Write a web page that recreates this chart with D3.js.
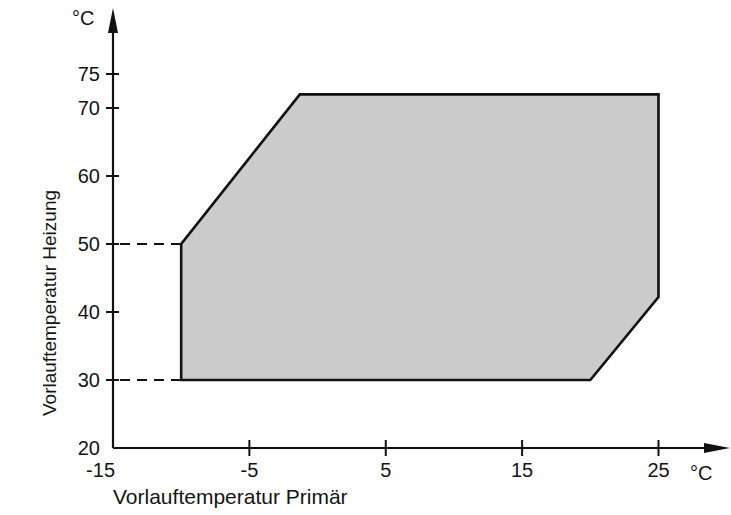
<!DOCTYPE html>
<html>
<head>
<meta charset="utf-8">
<script src="https://cdn.jsdelivr.net/npm/d3@7"></script>
<style>
  html, body { margin: 0; padding: 0; background: #fff; }
  svg text { font-family: "Liberation Sans", Arial, sans-serif; fill: #141414; }
</style>
</head>
<body>
<svg id="chart" width="731" height="515"></svg>
<script>
// Operating range: primary flow temperature (x) vs heating flow temperature (y)
const xTicks = [-15, -5, 5, 15, 25];
const yTicks = [20, 30, 40, 50, 60, 70, 75];
const rangeX = [-10, -10, -1.3, 25, 25, 20];
const rangeY = [30, 50, 72, 72, 42.2, 30];
// heating flow levels marked with guide lines back to the axis
const guideLevels = [50, 30];
const guideEndX = -10;

const xTitle = "Vorlauftemperatur Primär";
const yTitle = "Vorlauftemperatur Heizung";
const unit = "°C";

const svg = d3.select("#chart");
const x = d3.scaleLinear().domain([-15, 25]).range([113, 658.5]);
const y = d3.scaleLinear().domain([20, 75]).range([448, 74]);

const x0 = x(-15), y0 = y(20);

// shaded operating envelope
const pts = rangeX.map((v, i) => [x(v), y(rangeY[i])]);
svg.append("path")
  .attr("d", d3.line()(pts) + "Z")
  .attr("fill", "#cbcbcb")
  .attr("stroke", "#111")
  .attr("stroke-width", 2.6)
  .attr("stroke-linejoin", "miter");

// dashed guides
svg.selectAll("line.guide").data(guideLevels).enter().append("line")
  .attr("class", "guide")
  .attr("x1", x0).attr("x2", x(guideEndX))
  .attr("y1", d => y(d)).attr("y2", d => y(d))
  .attr("stroke", "#111").attr("stroke-width", 2)
  .attr("stroke-dasharray", "10,7")
  .attr("stroke-dashoffset", -7);

// axes lines
svg.append("line").attr("x1", x0).attr("x2", x0).attr("y1", y0).attr("y2", 30)
  .attr("stroke", "#111").attr("stroke-width", 2.2);
svg.append("line").attr("x1", x0).attr("x2", 706).attr("y1", y0).attr("y2", y0)
  .attr("stroke", "#111").attr("stroke-width", 2.2);

// arrow heads
svg.append("path").attr("d", `M${x0},8 L${x0 - 5},33 L${x0 + 5},33 Z`).attr("fill", "#111");
svg.append("path").attr("d", `M730,${y0} L704,${y0 - 5} L704,${y0 + 5} Z`).attr("fill", "#111");

// y ticks and labels
const yt = svg.append("g");
yt.selectAll("line").data(yTicks.filter(d => d !== 20)).enter().append("line")
  .attr("x1", x0 - 7).attr("x2", x0 + 6)
  .attr("y1", d => y(d)).attr("y2", d => y(d))
  .attr("stroke", "#111").attr("stroke-width", 2);
yt.selectAll("text").data(yTicks).enter().append("text")
  .attr("x", 100).attr("y", d => y(d)).attr("dy", "0.36em")
  .attr("text-anchor", "end").attr("font-size", 20)
  .text(d => d);

// x ticks and labels
const xt = svg.append("g");
xt.selectAll("line").data(xTicks.filter(d => d !== -15)).enter().append("line")
  .attr("x1", d => x(d)).attr("x2", d => x(d))
  .attr("y1", y0 - 8).attr("y2", y0 + 8)
  .attr("stroke", "#111").attr("stroke-width", 2);
xt.selectAll("text").data(xTicks).enter().append("text")
  .attr("x", d => d === -15 ? x(d) + 2 : x(d))
  .attr("y", 477)
  .attr("text-anchor", d => d === -15 ? "end" : "middle")
  .attr("font-size", 20)
  .text(d => d);

// units
svg.append("text").attr("x", 72).attr("y", 25).attr("font-size", 20).text(unit);
svg.append("text").attr("x", 690).attr("y", 480).attr("font-size", 20).text(unit);

// axis titles
svg.append("text").attr("x", 113).attr("y", 504).attr("font-size", 21).text(xTitle);
svg.append("text")
  .attr("transform", "translate(56,303) rotate(-90)")
  .attr("text-anchor", "middle").attr("font-size", 19)
  .text(yTitle);
</script>
</body>
</html>
